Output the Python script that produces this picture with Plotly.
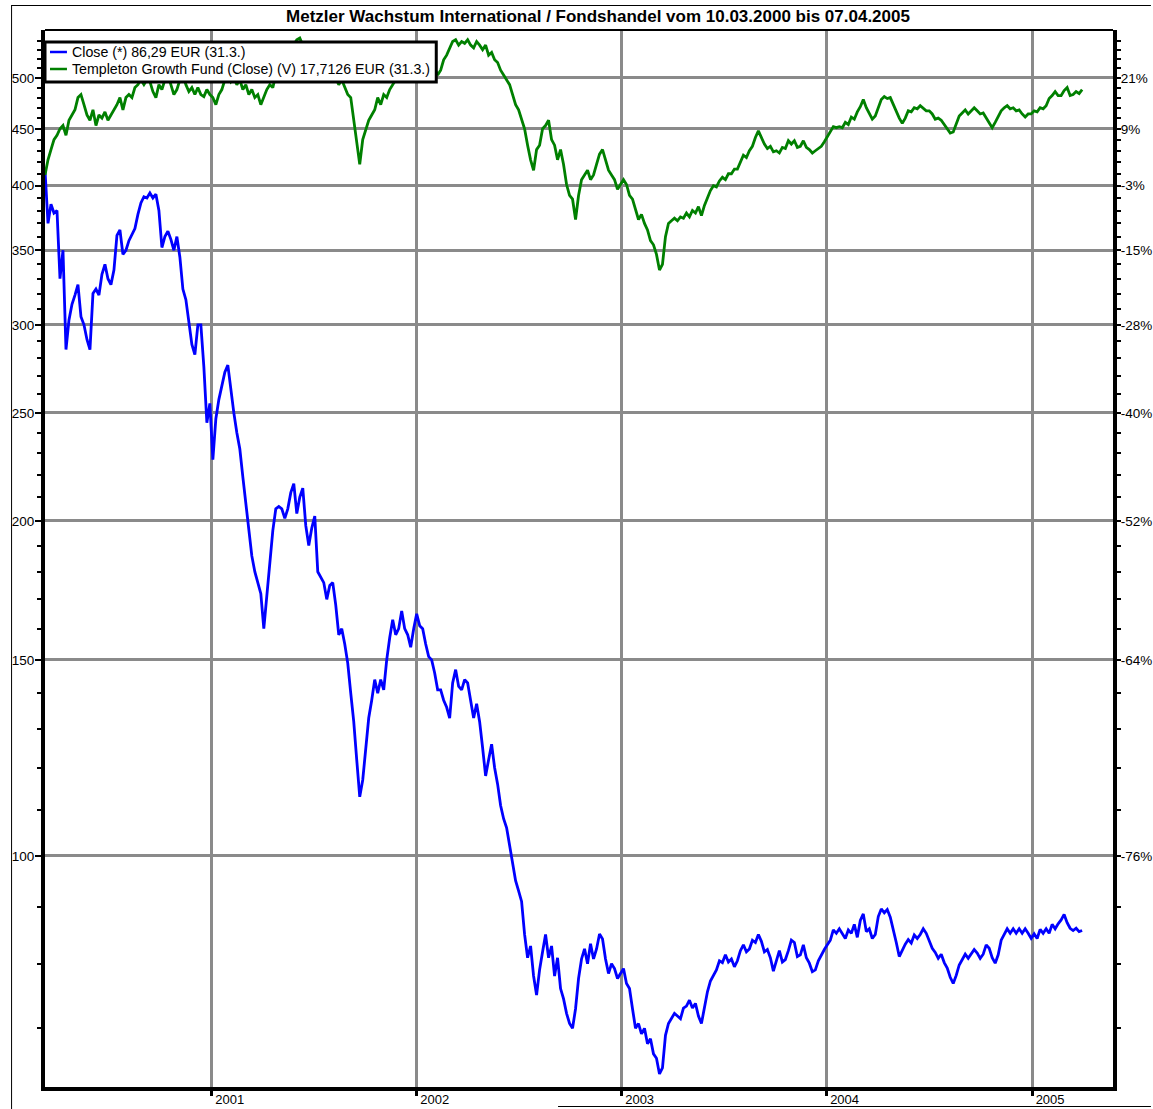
import plotly.graph_objects as go
import pandas as pd
import math

title_text = "Metzler Wachstum International / Fondshandel vom 10.03.2000 bis 07.04.2005"
close_name = "Close (*) 86,29 EUR (31.3.)"
templeton_name = "Templeton Growth Fund (Close) (V) 17,7126 EUR (31.3.)"

start_date = "2000-03-10"
end_date = "2005-03-31"

close_values = [
    413, 370, 385, 378, 380, 330, 350, 285, 303, 313,
    319, 326, 305, 300, 291, 285, 320, 323, 319, 333,
    340, 330, 326, 336, 361, 365, 347, 350, 357, 362,
    366, 377, 386, 391, 390, 394, 390, 393, 380, 352,
    360, 364, 358, 350, 360, 345, 323, 316, 300, 288,
    282, 300, 300, 275, 245, 255, 227, 247, 257, 265,
    272, 276, 262, 250, 240, 232, 219, 207, 197, 186,
    180, 176, 172, 160, 172, 182, 196, 205, 206, 205,
    201, 205, 212, 216, 203, 210, 214, 198, 190, 197,
    202, 180, 178, 176, 170, 175, 176, 168, 158, 160,
    155, 149, 140, 132, 122, 113, 117, 125, 133, 138,
    144, 140, 144, 141, 150, 157, 163, 158, 160, 166,
    160, 158, 154, 160, 165, 161, 160, 155, 151, 150,
    146, 141, 141, 138, 136, 133, 143, 147, 142, 141,
    144, 143, 138, 133, 137, 132, 125, 118, 122, 126,
    120, 116, 111, 108, 106, 102, 98, 95, 93, 91,
    85, 81, 83, 78, 75, 79, 82, 85, 81, 83,
    78, 81, 76, 74.4, 72.2, 70.7, 70, 72.9, 77.6, 80.8,
    82.5, 80, 83.4, 80.8, 82.5, 85.1, 84.2, 80.8, 78.4, 80,
    79.2, 77.6, 78.4, 79.2, 76.8, 76, 72.9, 70, 70.7, 69.2,
    70, 67.8, 68.5, 66.4, 65.8, 63.7, 64.5, 69, 70.7, 71.5,
    72.2, 71.8, 71.4, 73, 73.3, 74.2, 73, 73.7, 71.8, 70.7,
    73, 75.5, 77.2, 78.2, 79, 80.5, 80.2, 81.5, 80.3, 80.8,
    79.5, 80.5, 82.2, 83.2, 82, 82.5, 84, 83.6, 85, 83.8,
    82, 82.4, 81, 78.8, 80.4, 82.2, 80.3, 80.7, 82.2, 84,
    83.6, 81.2, 81.5, 83.2, 81, 80.1, 78.7, 79, 80.5, 81.5,
    82.4, 83.2, 84, 85.8, 85.2, 86, 85.2, 84.3, 85.8, 85.2,
    86.8, 84.5, 87.5, 88.7, 85.5, 86, 84.3, 85, 88.2, 89.6,
    88.9, 89.5, 88.1, 85.5, 83.6, 81.2, 82.3, 83.3, 84.1, 83.5,
    84.9, 84.3, 85, 86, 85.2, 83.7, 82.6, 81.9, 80.9, 81.6,
    80.2, 79.3, 77.8, 76.8, 78.1, 79.8, 80.7, 81.6, 80.9, 81.6,
    82.4, 81.8, 80.9, 81.6, 83.2, 82.6, 81, 80.1, 81.5, 84,
    85, 86, 85.2, 86, 85.2, 86, 85.2, 86, 85.2, 84.3,
    85.1, 84.3, 85.9, 85.2, 86, 85.2, 86.8, 86, 86.9, 87.6,
    88.6, 87.1, 86.1, 85.7, 86.1, 85.5, 85.7,
]

templeton_values = [
    409, 422, 431, 440, 444, 450, 453, 444, 458, 463,
    468, 480, 483, 473, 463, 458, 468, 453, 463, 460,
    466, 458, 463, 468, 473, 480, 468, 480, 483, 480,
    490, 493, 498, 493, 498, 496, 486, 480, 493, 488,
    498, 503, 493, 483, 488, 498, 503, 493, 486, 490,
    483, 490, 483, 481, 488, 483, 480, 473, 483, 488,
    498, 503, 496, 500, 493, 498, 488, 493, 483, 488,
    480, 483, 473, 481, 488, 493, 490, 503, 508, 513,
    519, 524, 530, 535, 541, 543, 535, 530, 524, 519,
    513, 508, 506, 510, 503, 500, 498, 500, 493, 498,
    490, 483, 480, 458, 435, 418, 440, 450, 458, 463,
    468, 480, 473, 483, 480, 488, 493, 498, 503, 500,
    508, 506, 510, 503, 508, 506, 513, 508, 513, 516,
    510, 503, 508, 519, 524, 532, 539, 541, 535, 539,
    537, 541, 535, 532, 539, 535, 530, 535, 524, 527,
    519, 516, 508, 503, 498, 493, 483, 473, 468, 458,
    450, 435, 422, 413, 431, 435, 450, 453, 458, 440,
    435, 422, 431, 418, 401, 392, 389, 373, 392, 405,
    409, 413, 405, 409, 418, 427, 431, 422, 413, 409,
    405, 397, 401, 405, 401, 392, 389, 381, 373, 377,
    370, 365, 357, 354, 347, 336, 340, 360, 370, 372,
    374, 372, 375, 374, 378, 375, 380, 378, 383, 376,
    384, 390, 396, 400, 399, 404, 407, 405, 410, 410,
    414, 414, 420, 426, 424, 430, 434, 442, 448, 442,
    436, 432, 434, 429, 430, 428, 433, 432, 439, 436,
    439, 433, 434, 439, 433, 431, 428, 430, 432, 434,
    438, 443, 448, 452, 451, 452, 451, 456, 454, 461,
    459, 466, 471, 478, 470, 464, 459, 462, 471, 478,
    481, 479, 480, 473, 465, 460, 455, 460, 467, 466,
    470, 469, 472, 469, 467, 467, 464, 459, 460, 458,
    454, 451, 446, 447, 455, 462, 465, 468, 464, 467,
    470, 467, 464, 465, 460, 455, 451, 456, 462, 467,
    470, 472, 469, 470, 467, 468, 464, 461, 464, 464,
    467, 466, 470, 469, 472, 479, 482, 486, 482, 482,
    487, 490, 482, 483, 486, 484, 488,
]

price_ticks = [100, 150, 200, 250, 300, 350, 400, 450, 500]
price_labels = ["100", "150", "200", "250", "300", "350", "400", "450", "500"]
percent_labels = ["-76%", "-64%", "-52%", "-40%", "-28%", "-15%", "-3%", "9%", "21%"]
minor_ticks = [v for v in range(70, 550, 10) if v not in price_ticks]

year_ticks = ["2001-01-01", "2002-01-01", "2003-01-01", "2004-01-01", "2005-01-01"]
year_labels = ["2001", "2002", "2003", "2004", "2005"]

x_range = ["2000-03-10", "2005-05-25"]
y_range = [math.log10(62.0), math.log10(552.0)]

close_dates = pd.date_range(start_date, end_date, periods=len(close_values))
templeton_dates = pd.date_range(start_date, end_date, periods=len(templeton_values))

FONT = "Liberation Sans, Arial, sans-serif"
GRID = "#8a8a8a"
BLUE = "#0000ff"
GREEN = "#008000"

fig = go.Figure()
fig.add_trace(go.Scatter(
    x=close_dates, y=close_values, name=close_name, mode="lines",
    line=dict(color=BLUE, width=2.8), yaxis="y", showlegend=False,
))
fig.add_trace(go.Scatter(
    x=templeton_dates, y=templeton_values, name=templeton_name, mode="lines",
    line=dict(color=GREEN, width=2.8), yaxis="y2", showlegend=False,
))

axis_common = dict(
    type="log", range=y_range, tickmode="array", tickvals=price_ticks,
    ticks="outside", tickwidth=2, tickcolor="black",
    showline=True, linecolor="black", linewidth=4,
    zeroline=False, automargin=False,
    tickfont=dict(family=FONT, size=13.5, color="black"),
    minor=dict(tickmode="array", tickvals=minor_ticks, ticks="outside",
               ticklen=4, tickwidth=2, tickcolor="black", showgrid=False),
)

# plot area in pixels: x 45..1115, y 30..1087
PW, PH = 1070.0, 1057.0


def px_x(px):
    return (px - 45) / PW


def px_y(py):
    return 1 - (py - 30) / PH


# manual legend box (drawn over the lines like the original)
legend_shapes = [
    dict(type="rect", xref="paper", yref="paper", x0=px_x(45), x1=px_x(437),
         y0=px_y(82), y1=px_y(42), fillcolor="white",
         line=dict(color="black", width=3), layer="above"),
]
legend_annotations = []
legend_rows = [(close_name, BLUE, 52), (templeton_name, GREEN, 69)]
for text, color, row_y in legend_rows:
    legend_shapes.append(dict(type="line", xref="paper", yref="paper",
                              x0=px_x(50), x1=px_x(67), y0=px_y(row_y), y1=px_y(row_y),
                              line=dict(color=color, width=2.5), layer="above"))
    legend_annotations.append(dict(text=text, xref="paper", yref="paper",
                                   x=px_x(70), y=px_y(row_y), xanchor="left",
                                   yanchor="middle", showarrow=False,
                                   font=dict(family=FONT, size=14.2, color="black")))

frame_shapes = [
    dict(type="line", xref="paper", yref="paper", x0=0, x1=1, y0=1, y1=1,
         line=dict(color="black", width=2)),
    dict(type="line", xref="paper", yref="paper", x0=px_x(11.5), x1=px_x(11.5),
         y0=px_y(1109), y1=px_y(5), line=dict(color="black", width=1)),
    dict(type="line", xref="paper", yref="paper", x0=px_x(11.5), x1=px_x(1153),
         y0=px_y(5.5), y1=px_y(5.5), line=dict(color="black", width=1)),
    dict(type="line", xref="paper", yref="paper", x0=px_x(559), x1=px_x(1153),
         y0=px_y(1106.5), y1=px_y(1106.5), line=dict(color="black", width=1)),
]

fig.update_layout(
    width=1153, height=1109,
    template="none",
    paper_bgcolor="white", plot_bgcolor="white",
    margin=dict(l=45, r=40, t=30, b=22, pad=0),
    title=dict(text="<b>" + title_text + "</b>", x=598 / 1153, xref="container",
               xanchor="center", y=1 - 16 / 1109, yref="container", yanchor="middle",
               font=dict(family=FONT, size=17, color="black")),
    showlegend=False,
    xaxis=dict(
        type="date", range=x_range, tickmode="array", tickvals=year_ticks,
        ticktext=year_labels, ticks="outside", ticklen=5, tickwidth=3,
        tickcolor="black", showgrid=True, gridcolor=GRID, gridwidth=3,
        showline=True, linecolor="black", linewidth=4, zeroline=False,
        automargin=False, ticklabelposition="outside right",
        ticklabelstandoff=-3,
        tickfont=dict(family=FONT, size=13, color="black"),
    ),
    yaxis=dict(side="left", ticktext=price_labels, showgrid=True,
               gridcolor=GRID, gridwidth=3, ticklen=6, ticklabelstandoff=-2,
               **axis_common),
    yaxis2=dict(side="right", overlaying="y", ticktext=percent_labels,
                showgrid=False, ticklen=4, ticklabelstandoff=-3, **axis_common),
    shapes=frame_shapes + legend_shapes,
    annotations=legend_annotations,
)

fig.write_html(
    "out.html",
    config={"displayModeBar": False},
    post_script="document.body.style.margin='0';document.body.style.overflow='hidden';",
)
